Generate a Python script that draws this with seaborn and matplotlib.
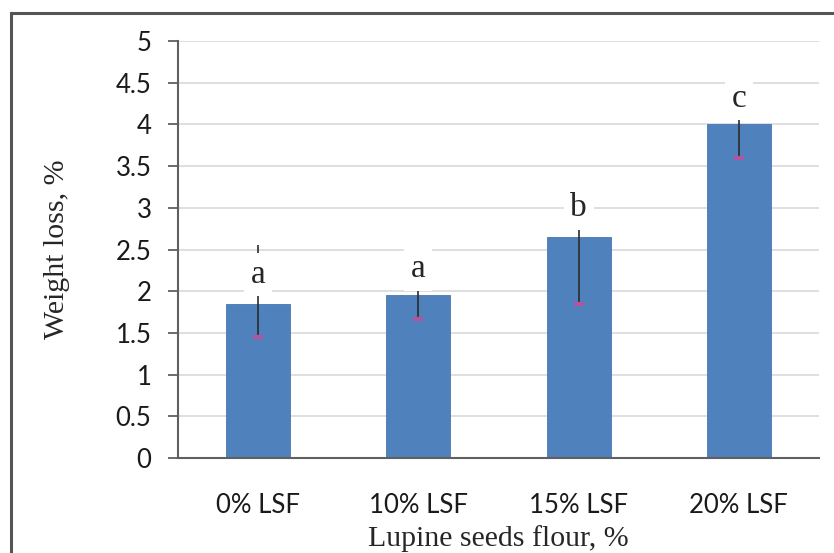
import matplotlib
matplotlib.use("Agg")
import matplotlib.pyplot as plt
import numpy as np
import pandas as pd
import seaborn as sns
from matplotlib.patches import Rectangle

# Values
groups = ["0% LSF", "10% LSF", "15% LSF", "20% LSF"]
weight_loss = [1.85, 1.95, 2.65, 4.0]
err_low = [1.45, 1.67, 1.85, 3.6]
err_high = [2.55, 2.03, 2.73, 4.1]
letters = ["a", "a", "b", "c"]
letter_y = [2.2, 2.27, 3.0, 4.31]
y_ticks = [0, 0.5, 1, 1.5, 2, 2.5, 3, 3.5, 4, 4.5, 5]
y_tick_labels = ["0", "0.5", "1", "1.5", "2", "2.5", "3", "3.5", "4", "4.5", "5"]

df = pd.DataFrame({"group": groups, "value": weight_loss})

sns.set_theme(style="white")
plt.rcParams["font.family"] = ["Lato", "DejaVu Sans"]
serif = ["Liberation Serif", "DejaVu Serif"]

fig = plt.figure(figsize=(8.34, 5.53), dpi=100)
ax = fig.add_axes([178 / 834, 1 - 458 / 553, (819 - 178) / 834, (458 - 41) / 553])

# outer frame, cut at right and bottom like the source
fig.patches.append(Rectangle((11 / 834, -0.1), 1.2, 1 - 13 / 553 + 0.1,
                             transform=fig.transFigure, fill=False,
                             edgecolor="#555555", linewidth=2.2, zorder=0))

sns.barplot(data=df, x="group", y="value", color="#4F81BD", width=0.4,
            errorbar=None, saturation=1, edgecolor="#4677B0", linewidth=0.6,
            ax=ax, zorder=2)

x = np.arange(len(groups))
mid = np.array(weight_loss)
lo = mid - np.array(err_low)
hi = np.array(err_high) - mid
ax.errorbar(x, mid, yerr=[lo, hi], fmt="none", ecolor="#2b2b2b",
            elinewidth=1.2, capsize=0, zorder=3)
ax.plot(x, err_low, linestyle="none", marker="_", markersize=7,
        markeredgewidth=3, color="#B0559E", zorder=4)

for xi, lab, ly in zip(x, letters, letter_y):
    ax.text(xi, ly, lab, ha="center", va="center", fontsize=24,
            family=serif, zorder=5,
            bbox=dict(boxstyle="square,pad=0.2", facecolor="white",
                      edgecolor="none"))

ax.set_ylim(0, 5)
ax.set_xlim(-0.5, 3.5)
ax.set_yticks(y_ticks)
ax.set_yticklabels(y_tick_labels)
ax.yaxis.grid(True, color="#D9D9D9", linewidth=1.2, zorder=0)
ax.set_axisbelow(True)

for s in ["top", "right"]:
    ax.spines[s].set_visible(False)
for s in ["left", "bottom"]:
    ax.spines[s].set_color("#606060")
    ax.spines[s].set_linewidth(1.5)

ax.tick_params(axis="y", which="both", left=True, length=7, width=1.3,
               color="#606060", pad=12, labelsize=18.5, labelcolor="#1a1a1a")
ax.tick_params(axis="x", bottom=False, pad=19, labelsize=18.5, labelcolor="#1a1a1a")

ax.set_xlabel("Lupine seeds flour, %", fontsize=21.5, family=serif, labelpad=5)
ax.set_ylabel("Weight loss, %", fontsize=21.5, family=serif, labelpad=33)

fig.savefig("out.png", dpi=100)
